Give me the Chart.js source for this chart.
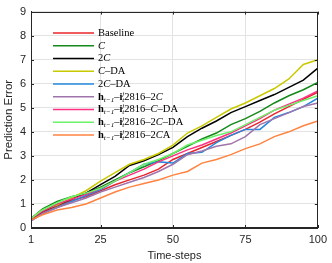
<!DOCTYPE html>
<html>
<head>
<meta charset="utf-8">
<script src="https://cdn.jsdelivr.net/npm/chart.js@4/dist/chart.umd.min.js"></script>
<style>
html,body{margin:0;padding:0;background:#fff;}
#wrap{width:332px;height:263px;position:relative;}
</style>
</head>
<body>
<div id="wrap"><canvas id="c" width="332" height="263"></canvas></div>
<script>
// ---- data ----
const steps = [1,5,10,15,20,25,30,35,40,45,50,55,60,65,70,75,80,85,90,95,100];
const xTickValues = [1,25,50,75,100];
const yTickValues = [0,1,2,3,4,5,6,7,8,9];

const baseline   = [0.35,0.65,0.90,1.15,1.30,1.55,1.80,2.00,2.20,2.45,2.85,3.10,3.35,3.60,3.85,4.10,4.40,4.75,5.05,5.35,5.65];
const c1         = [0.40,0.80,1.10,1.30,1.45,1.70,2.00,2.30,2.55,2.80,3.10,3.40,3.70,3.95,4.30,4.55,4.85,5.20,5.50,5.75,6.05];
const c2         = [0.40,0.70,0.95,1.20,1.45,1.80,2.15,2.60,2.80,3.05,3.35,3.80,4.15,4.45,4.80,5.05,5.30,5.55,5.85,6.15,6.65];
const c1DA       = [0.40,0.75,0.95,1.25,1.55,1.95,2.30,2.65,2.85,3.10,3.45,3.95,4.25,4.60,4.95,5.20,5.50,5.80,6.20,6.80,7.00];
const c2DA       = [0.30,0.60,0.85,1.10,1.35,1.60,1.95,2.30,2.65,2.75,2.70,3.10,3.15,3.55,3.85,4.10,4.10,4.60,4.80,5.05,5.40];
const h2c        = [0.30,0.60,0.85,1.05,1.25,1.50,1.70,1.90,2.10,2.35,2.65,3.05,3.20,3.40,3.50,3.80,4.30,4.55,4.80,5.05,5.20];
const hcDA       = [0.40,0.70,1.00,1.20,1.40,1.65,1.95,2.20,2.45,2.75,3.00,3.25,3.45,3.70,3.95,4.25,4.55,4.90,5.15,5.40,5.70];
const h2cDA      = [0.40,0.75,1.05,1.30,1.45,1.65,1.95,2.30,2.65,2.85,3.10,3.45,3.65,3.85,4.00,4.30,4.60,4.90,5.10,5.30,5.50];
const h2cA       = [0.33,0.55,0.75,0.85,1.00,1.25,1.50,1.70,1.85,2.00,2.20,2.35,2.70,2.85,3.05,3.30,3.50,3.80,4.00,4.25,4.45];

// legend labels (mini markup: **bold**, *italic*, _{sub}, ^{sup})
const labels = [
  'Baseline',
  '*C*',
  '2*C*',
  '*C*–DA',
  '2*C*–DA',
  '**h**_{t−1}–**i**_{t}^{j}2816–2*C*',
  '**h**_{t−1}–**i**_{t}^{j}2816–*C*–DA',
  '**h**_{t−1}–**i**_{t}^{j}2816–2*C*–DA',
  '**h**_{t−1}–**i**_{t}^{j}2816–2*C*A'
];
const seriesList = [baseline,c1,c2,c1DA,c2DA,h2c,hcDA,h2cDA,h2cA];
const colors = ['#e8262b','#15891a','#000000','#c9c900','#2488dc','#a074ad','#ff2f82','#6bf26b','#ff8340'];

const datasets = seriesList.map((s,i)=>({
  label: labels[i],
  data: steps.map((x,k)=>({x:x,y:s[k]})),
  borderColor: colors[i],
  backgroundColor: colors[i],
  borderWidth: 1.5,
  pointRadius: 0,
  tension: 0,
  fill: false,
  order: seriesList.length - i
}));

const serif = "'Liberation Serif','DejaVu Serif',serif";
const sans = "'Liberation Sans',Arial,sans-serif";
const axisColor = '#262626';

function drawRich(ctx, str, x, y, size){
  const re = /(\*\*[^*]+\*\*|_\{[^}]*\}|\^\{[^}]*\}|\*[^*]+\*|[^*_^]+)/g;
  let m, cx = x, subStart = null, subW = 0, lastWasSub = false;
  ctx.textBaseline = 'middle';
  ctx.textAlign = 'left';
  while((m = re.exec(str))){
    const t = m[0];
    if(t.startsWith('**')){
      ctx.font = 'bold '+size+'px '+serif;
      const s=t.slice(2,-2); ctx.fillText(s,cx,y); cx+=ctx.measureText(s).width; lastWasSub=false;
    } else if(t.startsWith('_{')){
      const s=t.slice(2,-1); ctx.font = 'italic '+(size*0.68)+'px '+serif;
      subStart=cx; ctx.fillText(s,cx,y+size*0.28); subW=ctx.measureText(s).width; cx+=subW; lastWasSub=true;
    } else if(t.startsWith('^{')){
      const s=t.slice(2,-1); ctx.font = 'italic '+(size*0.68)+'px '+serif;
      const w=ctx.measureText(s).width;
      if(lastWasSub){ ctx.fillText(s,subStart,y-size*0.3); cx=subStart+Math.max(w,subW); }
      else { ctx.fillText(s,cx,y-size*0.3); cx+=w; }
      lastWasSub=false;
    } else if(t.startsWith('*')){
      ctx.font = 'italic '+size+'px '+serif;
      const s=t.slice(1,-1); ctx.fillText(s,cx,y); cx+=ctx.measureText(s).width; lastWasSub=false;
    } else {
      ctx.font = size+'px '+serif;
      ctx.fillText(t,cx,y); cx+=ctx.measureText(t).width; lastWasSub=false;
    }
  }
}

const framePlugin = {
  id:'frameLegend',
  afterDatasetsDraw(chart){
    const {ctx, chartArea:a, scales} = chart;
    ctx.save();
    ctx.strokeStyle = axisColor; ctx.lineWidth = 1;
    ctx.strokeRect(Math.round(a.left)+0.5, Math.round(a.top)+0.5, Math.round(a.right-a.left)-1, Math.round(a.bottom-a.top)-1);
    // inward ticks
    ctx.beginPath();
    xTickValues.forEach(v=>{
      const px = Math.round(scales.x.getPixelForValue(v))+0.5;
      ctx.moveTo(px,a.bottom); ctx.lineTo(px,a.bottom-3);
      ctx.moveTo(px,a.top); ctx.lineTo(px,a.top+3);
    });
    yTickValues.forEach(v=>{
      const py = Math.round(scales.y.getPixelForValue(v))+0.5;
      ctx.moveTo(a.left,py); ctx.lineTo(a.left+3,py);
      ctx.moveTo(a.right,py); ctx.lineTo(a.right-3,py);
    });
    ctx.stroke();
    // legend
    const x0 = a.left + 22, x1 = a.left + 63, tx = a.left + 67;
    labels.forEach((lab,i)=>{
      const y = a.top + 21.5 + i*12.75;
      ctx.strokeStyle = colors[i]; ctx.lineWidth = 1.5;
      ctx.beginPath(); ctx.moveTo(x0,y); ctx.lineTo(x1,y); ctx.stroke();
      ctx.fillStyle = '#000';
      drawRich(ctx, lab, tx, y, 10.5);
    });
    ctx.restore();
  }
};

new Chart(document.getElementById('c'), {
  type:'line',
  data:{datasets},
  options:{
    responsive:false,
    animation:false,
    layout:{padding:{left:0,right:12,top:8,bottom:0}},
    plugins:{legend:{display:false},tooltip:{enabled:false}},
    scales:{
      x:{
        type:'linear', min:1, max:100,
        afterBuildTicks(s){ s.ticks = xTickValues.map(v=>({value:v})); },
        afterFit(s){ s.height = 35; },
        grid:{color:'#e3e3e3', drawTicks:false},
        border:{display:true,color:axisColor},
        ticks:{color:axisColor,font:{family:sans,size:11},padding:5,maxRotation:0},
        title:{display:true,text:'Time-steps',color:axisColor,font:{family:sans,size:11},padding:{top:2,bottom:0}}
      },
      y:{
        type:'linear', min:0, max:9,
        afterBuildTicks(s){ s.ticks = yTickValues.map(v=>({value:v})); },
        afterFit(s){ s.width = 31; },
        grid:{color:'#e3e3e3', drawTicks:false},
        border:{display:true,color:axisColor},
        ticks:{color:axisColor,font:{family:sans,size:11},padding:5},
        title:{display:true,text:'Prediction Error',color:axisColor,font:{family:sans,size:11.5},padding:{top:2,bottom:0}}
      }
    }
  },
  plugins:[framePlugin]
});
</script>
</body>
</html>
